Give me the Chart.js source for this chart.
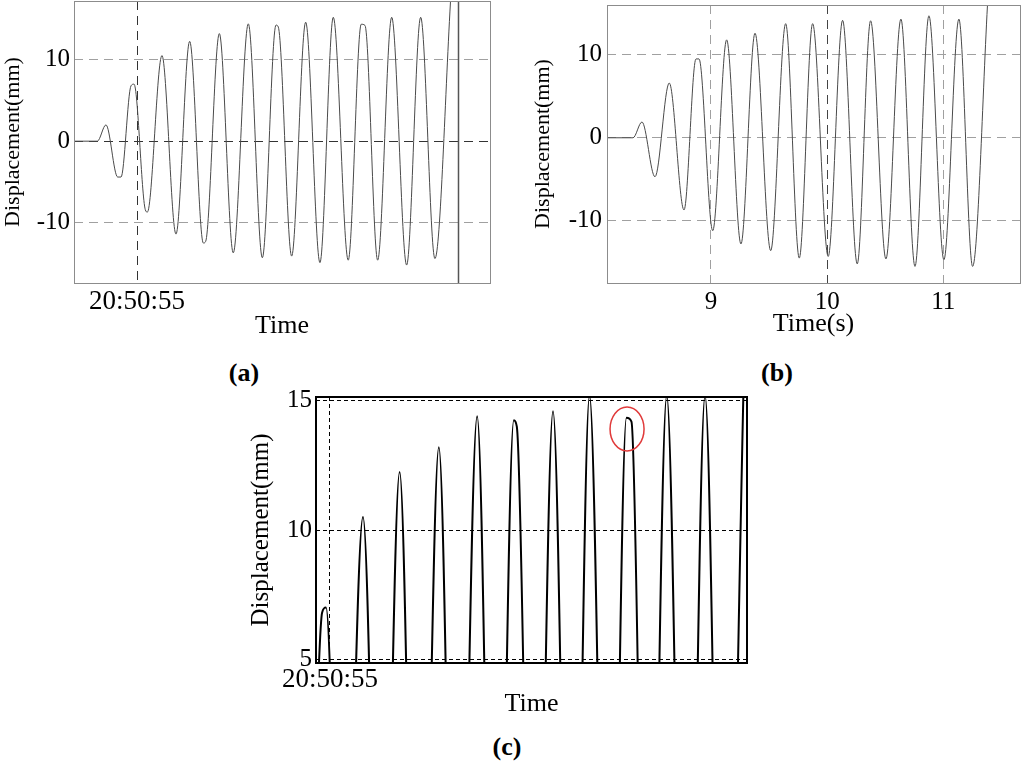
<!DOCTYPE html>
<html>
<head>
<meta charset="utf-8">
<script src="https://cdn.jsdelivr.net/npm/chart.js@4.4.1/dist/chart.umd.min.js"></script>
<style>
body{margin:0;background:#fff;width:1024px;height:762px;position:relative;overflow:hidden}
canvas{position:absolute}
.cap{position:absolute;font:bold 26px "Liberation Serif",serif;line-height:1;transform:translate(-50%,-50%);color:#000}
</style>
</head>
<body>
<canvas id="chartA" width="520" height="342" style="left:0;top:0"></canvas>
<canvas id="chartB" width="504" height="342" style="left:520px;top:0"></canvas>
<canvas id="chartC" width="530" height="330" style="left:240px;top:390px"></canvas>
<div class="cap" style="left:244px;top:373px">(a)</div>
<div class="cap" style="left:777px;top:373px">(b)</div>
<div class="cap" style="left:507px;top:747px">(c)</div>
<script>
// measured record, panels (a) and (c): seconds after 20:50:00
const timeA = [54.452, 54.655, 54.730, 54.832, 54.861, 54.948, 54.974, 55.072, 55.090, 55.217,
  55.339, 55.458, 55.577, 55.597, 55.716, 55.837, 55.968, 56.090, 56.209, 56.229,
  56.345, 56.467, 56.591, 56.707, 56.837, 56.950, 56.983, 57.093, 57.215, 57.345,
  57.467, 57.591, 57.730];
const dispA = [0, 0, 2.0, -4.4, -4.4, 6.8, 7.0, -8.4, -8.7, 10.5,
  -11.4, 12.25, -12.5, -12.3, 13.2, -13.7, 14.4, -14.3, 14.25, 14.0,
  -14.1, 14.6, -14.9, 15.2, -14.6, 14.35, 14.2, -14.6, 15.2, -15.2,
  15.2, -14.4, 18.0];

// reference record, panel (b): seconds
const timeB = [8.105, 8.329, 8.406, 8.518, 8.641, 8.768, 8.871, 8.897, 9.015, 9.135,
  9.258, 9.379, 9.514, 9.643, 9.760, 9.875, 10.009, 10.133, 10.259, 10.374,
  10.506, 10.635, 10.756, 10.876, 11.005, 11.134, 11.252, 11.384];
const dispB = [0, 0, 1.9, -4.7, 6.6, -8.7, 9.5, 9.5, -11.2, 11.8,
  -12.8, 12.6, -13.6, 13.75, -14.5, 13.75, -14.3, 14.15, -15.2, 14.1,
  -14.6, 14.3, -15.5, 14.7, -14.7, 14.3, -15.5, 17.0];

const yTicksAB = [-10, 0, 10];
const yTicksC = [5, 10, 15];
const xTicksA = [55];
const xLabelsA = ['20:50:55'];
const xTicksB = [9, 10, 11];
const xLabelsB = ['9', '10', '11'];

const FONT = '"Liberation Serif", serif';

function pts(ts, ys) {
  return ts.map((t, i) => ({x: t, y: ys[i]}));
}

const framePlugin = {
  id: 'frame',
  afterDatasetsDraw(chart, args, o) {
    const a = chart.chartArea, ctx = chart.ctx, xs = chart.scales.x, ys = chart.scales.y;
    ctx.save();
    (o.lines || []).forEach(l => {
      const px = Math.round(xs.getPixelForValue(l.x)) + 0.5;
      ctx.strokeStyle = l.color; ctx.lineWidth = l.width;
      ctx.beginPath(); ctx.moveTo(px, a.top); ctx.lineTo(px, a.bottom); ctx.stroke();
    });
    if (o.ring) {
      ctx.strokeStyle = o.ring.color; ctx.lineWidth = 1.5;
      ctx.beginPath();
      ctx.ellipse(xs.getPixelForValue(o.ring.x), ys.getPixelForValue(o.ring.y), o.ring.rx, o.ring.ry, 0, 0, Math.PI * 2);
      ctx.stroke();
    }
    const off = o.width % 2 ? 0.5 : 0;
    ctx.strokeStyle = o.color; ctx.lineWidth = o.width;
    ctx.strokeRect(Math.round(a.left) + off, Math.round(a.top) + off, Math.round(a.right - a.left), Math.round(a.bottom - a.top));
    ctx.restore();
  }
};

function makeChart(id, c) {
  return new Chart(document.getElementById(id), {
    type: 'line',
    data: {datasets: [{
      data: c.data,
      borderColor: c.lineColor,
      borderWidth: c.lineWidth,
      pointRadius: 0,
      cubicInterpolationMode: 'monotone',
      fill: false
    }]},
    options: {
      responsive: false,
      animation: false,
      events: [],
      layout: {padding: c.padding},
      plugins: {legend: {display: false}, tooltip: {enabled: false}, frame: c.frame},
      scales: {
        x: {
          type: 'linear', min: c.xMin, max: c.xMax,
          afterBuildTicks: s => { s.ticks = c.xTicks.map(v => ({value: v})); },
          afterFit: s => { s.height = c.xHeight; s.paddingLeft = 0; s.paddingRight = 0; },
          ticks: {callback: (v, i) => c.xLabels[i], padding: c.xPad, color: '#000', maxRotation: 0, autoSkip: false,
            font: {family: FONT, size: c.xTickSize}},
          grid: {color: ctx => c.xGrid(ctx.tick.value), drawTicks: false, lineWidth: 1},
          border: {display: false, dash: c.dash},
          title: {display: true, text: c.xTitle, color: '#000', padding: {top: 0, bottom: c.xTitlePad},
            font: {family: FONT, size: 26, lineHeight: 1.2}}
        },
        y: {
          type: 'linear', min: c.yMin, max: c.yMax,
          afterBuildTicks: s => { s.ticks = c.yTicks.map(v => ({value: v})); },
          afterFit: s => { s.width = c.yWidth; s.paddingTop = 0; s.paddingBottom = 0; },
          ticks: {padding: c.yPad, color: '#000', font: {family: FONT, size: 25}},
          grid: {color: ctx => c.yGrid(ctx.tick.value), drawTicks: false, lineWidth: 1},
          border: {display: false, dash: c.dash},
          title: {display: true, text: 'Displacement(mm)', color: '#000', padding: {top: c.yTitlePad, bottom: 0},
            font: {family: FONT, size: c.yTitleSize, lineHeight: 1}}
        }
      }
    },
    plugins: [framePlugin]
  });
}

makeChart('chartA', {
  data: pts(timeA, dispA), lineColor: '#4a4a4a', lineWidth: 1,
  padding: {left: 0, top: 1, right: 30, bottom: 0},
  xMin: 54.452, xMax: 58.07, yMin: -17.4, yMax: 17.2,
  xTicks: xTicksA, xLabels: xLabelsA, yTicks: yTicksAB,
  xHeight: 59, yWidth: 74, xPad: 3, yPad: 4, xTitle: 'Time', xTitlePad: 0, yTitlePad: 2,
  xTickSize: 27, yTitleSize: 22,
  dash: [9, 6],
  xGrid: v => '#333', yGrid: v => v === 0 ? '#333' : '#a0a0a0',
  frame: {color: '#8c8c8c', width: 1, lines: [{x: 57.79, color: '#555', width: 1.5}]}
});

makeChart('chartB', {
  data: pts(timeB, dispB), lineColor: '#4a4a4a', lineWidth: 1,
  padding: {left: 0, top: 5, right: 4, bottom: 0},
  xMin: 8.105, xMax: 11.66, yMin: -17.5, yMax: 16.0,
  xTicks: xTicksB, xLabels: xLabelsB, yTicks: yTicksAB,
  xHeight: 59, yWidth: 87, xPad: 4, yPad: 5, xTitle: 'Time(s)', xTitlePad: 2, yTitlePad: 12,
  xTickSize: 25, yTitleSize: 22,
  dash: [9, 6],
  xGrid: v => v === 10 ? '#444' : '#a0a0a0', yGrid: v => '#a0a0a0',
  frame: {color: '#8c8c8c', width: 1}
});

makeChart('chartC', {
  data: pts(timeA, dispA), lineColor: '#000', lineWidth: 2,
  padding: {left: 0, top: 7, right: 23, bottom: 0},
  xMin: 54.908, xMax: 57.743, yMin: 4.85, yMax: 15.15,
  xTicks: xTicksA, xLabels: xLabelsA, yTicks: yTicksC,
  xHeight: 57, yWidth: 76, xPad: 1, yPad: 4, xTitle: 'Time', xTitlePad: 0, yTitlePad: 9,
  xTickSize: 27, yTitleSize: 25,
  dash: [4, 3],
  xGrid: v => '#000', yGrid: v => '#000',
  frame: {color: '#000', width: 2, ring: {x: 56.954, y: 13.91, rx: 17, ry: 22, color: '#e03a3a'}}
});
</script>
</body>
</html>
